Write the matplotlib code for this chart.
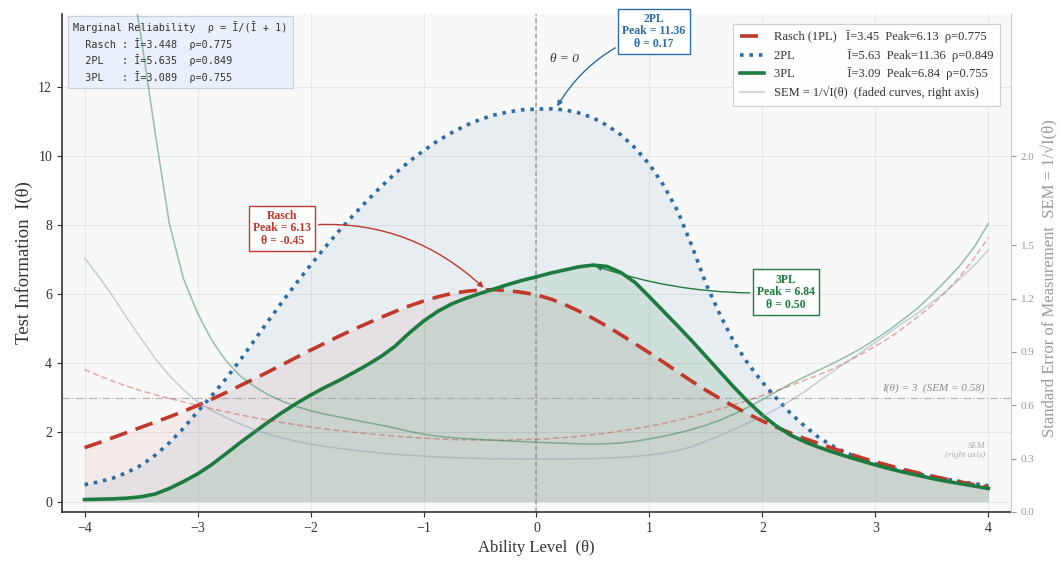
import numpy as np
import matplotlib
matplotlib.use("Agg")
import matplotlib.pyplot as plt
from matplotlib.lines import Line2D

# ability grid, step 0.125 from -4 to 4
theta = np.arange(-4.0, 4.0001, 0.125)

# test information
info_rasch = [1.56, 1.70, 1.85, 2.00, 2.15, 2.30, 2.45, 2.61, 2.78, 2.96, 3.15, 3.35, 3.55,
              3.75, 3.96, 4.17, 4.38, 4.58, 4.78, 4.97, 5.15, 5.33, 5.50, 5.66, 5.80, 5.92,
              6.02, 6.08, 6.12, 6.13, 6.10, 6.05, 5.98, 5.86, 5.70, 5.51, 5.30, 5.07, 4.82,
              4.56, 4.30, 4.03, 3.75, 3.48, 3.22, 2.98, 2.75, 2.53, 2.33, 2.15, 1.98, 1.82,
              1.68, 1.54, 1.40, 1.27, 1.15, 1.04, 0.93, 0.83, 0.74, 0.65, 0.57, 0.49, 0.42]

info_2pl = [0.49, 0.57, 0.68, 0.84, 1.05, 1.34, 1.70, 2.12, 2.60, 3.06, 3.55, 4.08, 4.65,
            5.22, 5.78, 6.32, 6.84, 7.34, 7.82, 8.27, 8.70, 9.11, 9.49, 9.84, 10.15, 10.43,
            10.67, 10.88, 11.05, 11.18, 11.27, 11.33, 11.35, 11.36, 11.33, 11.24, 11.10,
            10.88, 10.60, 10.22, 9.75, 9.15, 8.40, 7.40, 6.30, 5.40, 4.60, 3.98, 3.45, 2.98,
            2.55, 2.18, 1.85, 1.60, 1.40, 1.24, 1.10, 0.98, 0.88, 0.80, 0.72, 0.65, 0.58,
            0.52, 0.46]

info_3pl = [0.06, 0.07, 0.08, 0.10, 0.14, 0.22, 0.38, 0.58, 0.80, 1.07, 1.38, 1.70, 2.00,
            2.30, 2.58, 2.84, 3.08, 3.30, 3.50, 3.72, 3.95, 4.20, 4.50, 4.88, 5.22, 5.50,
            5.72, 5.88, 6.02, 6.15, 6.28, 6.40, 6.50, 6.61, 6.70, 6.79, 6.84, 6.80, 6.62,
            6.33, 5.92, 5.50, 5.08, 4.65, 4.20, 3.75, 3.30, 2.88, 2.50, 2.18, 1.92, 1.73,
            1.57, 1.43, 1.30, 1.18, 1.06, 0.95, 0.85, 0.76, 0.67, 0.59, 0.52, 0.45, 0.38]

model_names = ["Rasch", "2PL", "3PL"]
mean_info = [3.448, 5.635, 3.089]
peak_info = [6.13, 11.36, 6.84]
peak_theta = [-0.45, 0.17, 0.50]
reliability = [0.775, 0.849, 0.755]

RED = "#c0392b"
BLUE = "#2e6da4"
GREEN = "#1e7b3f"

plt.rcParams["font.family"] = ["Liberation Serif", "DejaVu Serif"]

th = theta
curves = [np.array(info_rasch), np.array(info_2pl), np.array(info_3pl)]

fig = plt.figure(figsize=(10.59, 5.62), dpi=100)
ax = fig.add_axes([0.0585, 0.089, 0.8962, 0.886])
ax.set_facecolor("#f8f8f8")

# fills
ax.fill_between(th, 0, curves[0], color=RED, alpha=0.07, lw=0)
ax.fill_between(th, 0, curves[1], color=BLUE, alpha=0.08, lw=0)
ax.fill_between(th, 0, curves[2], color=GREEN, alpha=0.12, lw=0)

ax.plot(th, curves[1], color=BLUE, lw=2.6, ls=(0, (1, 1.6)), zorder=4)
ax.plot(th, curves[0], color=RED, lw=2.6, ls=(0, (5, 2.5)), zorder=5)
ax.plot(th, curves[2], color=GREEN, lw=2.6, zorder=6)

ax.axvline(0, color="#888888", lw=1.1, ls=(0, (3, 2)), alpha=0.8, zorder=2)
ax.axhline(3, color="#999999", lw=0.9, ls="-.", alpha=0.7, zorder=2)
ax.text(3.97, 3.15, "I(θ) = 3  (SEM = 0.58)", ha="right", va="bottom",
        fontsize=8, color="#888888", style="italic")
ax.text(0.12, 12.7, "θ = 0", fontsize=9.5, style="italic", color="#333333")

ax.set_xlim(-4.2, 4.2)
ax.set_ylim(-0.3, 14.1)
ax.set_xticks(range(-4, 5))
ax.set_yticks(range(0, 13, 2))
ax.grid(True, color="#e6e6e6", lw=0.7)
ax.set_axisbelow(True)
for s in ["top", "right"]:
    ax.spines[s].set_visible(False)
ax.spines["left"].set_color("#333333")
ax.spines["bottom"].set_color("#333333")
ax.spines["left"].set_linewidth(1.2)
ax.spines["bottom"].set_linewidth(1.2)
ax.tick_params(labelsize=10, colors="#333333")
ax.set_xlabel("Ability Level  (θ)", fontsize=12, color="#333333")
ax.set_ylabel("Test Information  I(θ)", fontsize=13.5, color="#333333")

# reliability box
rel_lines = ["Marginal Reliability  ρ = Ī/(Ī + 1)"]
for name, m, r in zip(model_names, mean_info, reliability):
    rel_lines.append(f"  {name:<6}: Ī={m:.3f}  ρ={r:.3f}")
ax.text(0.012, 0.985, "\n".join(rel_lines), transform=ax.transAxes, va="top", ha="left",
        family="DejaVu Sans Mono", fontsize=7.3, color="#333333", linespacing=1.45,
        bbox=dict(boxstyle="square,pad=0.55", fc="#eaf0fa", ec="#c5d0e0", lw=0.8))

# peak annotations
ann = [(RED, (-2.25, 7.9), -0.25), (BLUE, (1.04, 13.6), 0.2), (GREEN, (2.21, 6.06), -0.1)]
for i, (col, xy_text, rad) in enumerate(ann):
    label = f"{model_names[i]}\nPeak = {peak_info[i]:.2f}\nθ = {peak_theta[i]:.2f}"
    ax.annotate(label, xy=(peak_theta[i], peak_info[i]), xytext=xy_text,
                ha="center", va="center", fontsize=8.5, fontweight="bold", color=col,
                linespacing=1.05,
                bbox=dict(boxstyle="square,pad=0.35", fc="white", ec=col, lw=1),
                arrowprops=dict(arrowstyle="-|>", color=col, lw=1,
                                connectionstyle=f"arc3,rad={rad}", mutation_scale=8),
                zorder=10)

# SEM on right axis
ax2 = ax.twinx()
ax2.set_ylim(0, 2.8)
ax2.set_yticks([0.0, 0.3, 0.6, 0.9, 1.2, 1.5, 2.0])
ax2.yaxis.set_major_formatter(matplotlib.ticker.FormatStrFormatter("%.1f"))
ax2.plot(th, 1 / np.sqrt(curves[0]), color=RED, lw=1.1, ls=(0, (4, 2)), alpha=0.4)
ax2.plot(th, 1 / np.sqrt(curves[1]), color="#8a9bb0", lw=1.1, alpha=0.45)
ax2.plot(th, 1 / np.sqrt(curves[2]), color=GREEN, lw=1.1, alpha=0.45)
for s in ["top", "left", "bottom"]:
    ax2.spines[s].set_visible(False)
ax2.spines["right"].set_color("#cccccc")
ax2.tick_params(labelsize=8, colors="#999999")
ax2.set_ylabel("Standard Error of Measurement  SEM = 1/√I(θ)", fontsize=12,
               color="#999999")
ax2.yaxis.set_label_coords(1.032, 0.47)
ax2.text(3.97, 0.3, "SEM\n(right axis)", ha="right", va="bottom", fontsize=6.5,
         color="#aaaaaa", style="italic", linespacing=1.1)

handles = [
    Line2D([], [], color=RED, lw=2.6, ls=(0, (5, 2.5))),
    Line2D([], [], color=BLUE, lw=2.6, ls=(0, (1, 1.6))),
    Line2D([], [], color=GREEN, lw=2.6),
    Line2D([], [], color="#bbbbbb", lw=1.2, alpha=0.7),
]
pads = ["Rasch (1PL)   ", "2PL                 ", "3PL                 "]
labels = [f"{p}Ī={m:.2f}  Peak={pk:.2f}  ρ={r:.3f}"
          for p, m, pk, r in zip(pads, mean_info, peak_info, reliability)]
labels.append("SEM = 1/√I(θ)  (faded curves, right axis)")
leg = ax2.legend(handles, labels, loc="upper right", fontsize=9, frameon=True,
                 fancybox=False, edgecolor="#cccccc", framealpha=0.95,
                 handlelength=1.9, borderpad=0.55, labelspacing=0.45,
                 bbox_to_anchor=(0.995, 0.993))
leg.get_frame().set_linewidth(0.8)
for t in leg.get_texts():
    t.set_color("#333333")

fig.savefig("out.png", dpi=100)
